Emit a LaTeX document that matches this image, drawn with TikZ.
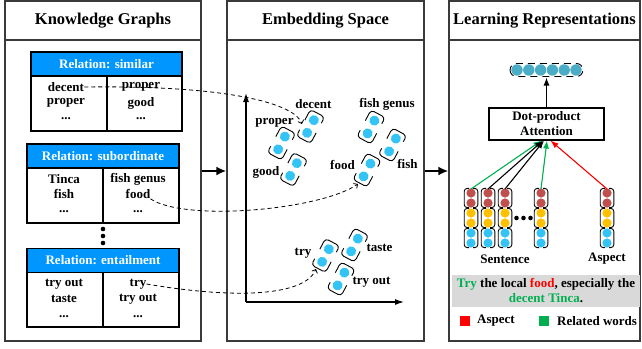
\documentclass[tikz,border=0pt]{standalone}
\usepackage{fontspec}
\setmainfont{Liberation Serif}
\usetikzlibrary{arrows.meta}
\definecolor{panelgray}{HTML}{3A3A3A}
\definecolor{hdrblue}{HTML}{0096FF}
\definecolor{dotcyan}{HTML}{33C3F5}
\definecolor{cbrown}{HTML}{C0504D}
\definecolor{cgold}{HTML}{FFC000}
\definecolor{steel}{HTML}{4BACC6}
\definecolor{tgreen}{HTML}{00B050}
\definecolor{tred}{HTML}{FF0000}
\definecolor{boxgray}{HTML}{D9D9D9}
\tikzset{
  panel/.style={draw=panelgray,line width=1.3pt,rectangle,inner sep=0pt},
  ptitle/.style={font=\fontsize{16.5}{19}\selectfont\bfseries,inner sep=0pt},
  txt/.style={font=\fontsize{13}{15}\selectfont\bfseries,inner sep=0pt},
  hdr/.style={draw=black,line width=1.1pt,fill=hdrblue,text=white,
    font=\fontsize{13}{15}\selectfont\bfseries,minimum height=24pt,inner sep=0pt},
  tbl/.style={draw=black,line width=1.1pt},
  capline/.style={draw=black,line width=0.9pt},
  bigarrow/.style={line width=2.4pt,-{Latex[length=10pt,width=9pt]}},
  axisline/.style={line width=1.2pt,-{Latex[length=9pt,width=6pt]}},
  dashcurve/.style={line width=0.8pt,dash pattern=on 4pt off 3pt,-{Straight Barb[length=3pt,width=6pt]}},
  attarrow/.style={line width=1.1pt,-{Latex[length=8pt,width=6pt]}},
  legsq/.style={rectangle,minimum size=9.5pt,inner sep=0pt},
  pair/.pic={
    \fill[dotcyan] (0,-7.2) circle[radius=5];
    \fill[dotcyan] (0,7.2) circle[radius=5];
    \draw[capline,rounded corners=3.5] (-8,-3) -- (-8,-15) -- (8,-15) -- (8,-8);
    \draw[capline,rounded corners=3.5] (8,3) -- (8,15) -- (-8,15) -- (-8,8);
  },
  colvec/.pic={
    \foreach \yy/\cc in {-25/cbrown,-15/cbrown,-5/cgold,5/cgold,15/dotcyan,25/dotcyan}
      \fill[\cc] (0,\yy) circle[radius=4.6];
    \foreach \g in {-20,0,20} {
      \draw[capline,rounded corners=3] (-2,\g-9.6) -- (-6.8,\g-9.6) -- (-6.8,\g+9.6) -- (-2,\g+9.6);
      \draw[capline,rounded corners=3] (2,\g-9.6) -- (6.8,\g-9.6) -- (6.8,\g+9.6) -- (2,\g+9.6);
    }
  }
}
\begin{document}
\begin{tikzpicture}[x=1pt,y=-1pt]
\useasboundingbox (0,0) rectangle (642,348);

% panels
\node[panel,minimum width=196pt,minimum height=340pt] (P1) at (103,171) {};
\node[panel,minimum width=197pt,minimum height=340pt] (P2) at (325.5,171) {};
\node[panel,minimum width=191pt,minimum height=340pt] (P3) at (544.5,171) {};
\draw[draw=panelgray,line width=1.3pt] (P1.west |- 0,40) -- (P1.east |- 0,40);
\draw[draw=panelgray,line width=1.3pt] (P2.west |- 0,40) -- (P2.east |- 0,40);
\draw[draw=panelgray,line width=1.3pt] (P3.west |- 0,40) -- (P3.east |- 0,40);
\node[ptitle] (T1) at (103,21) {Knowledge Graphs};
\node[ptitle] (T2) at (325.5,21) {Embedding Space};
\node[ptitle] (T3) at (544.5,21) {Learning Representations};
\draw[bigarrow] (P1) -- (P2);
\draw[bigarrow] (P2) -- (P3);

% table 1
\node[hdr,minimum width=151pt] (H1) at (106.5,64) {Relation: similar};
\draw[tbl] (31,76) rectangle (182,131);
\draw[tbl] (107,76) -- (107,131);
\node[txt] (k1a) at (66,87) {decent};
\node[txt] (k1b) at (66,103) {proper};
\node[txt] (k1c) at (66,119) {...};
\node[txt] (k1d) at (141,87) {proper};
\node[txt] (k1e) at (141,103) {good};
\node[txt] (k1f) at (141,119) {...};

% table 2
\node[hdr,minimum width=152pt] (H2) at (103,156) {Relation: subordinate};
\draw[tbl] (27,168) rectangle (179,223);
\draw[tbl] (103,168) -- (103,223);
\node[txt] (k2a) at (64,179) {Tinca};
\node[txt] (k2b) at (64,194) {fish};
\node[txt] (k2c) at (64,212) {...};
\node[txt] (k2d) at (138,179) {fish genus};
\node[txt] (k2e) at (138,194) {food};
\node[txt] (k2f) at (138,212) {...};

\fill (103,229) circle[radius=2.3];
\fill (103,236) circle[radius=2.3];
\fill (103,243) circle[radius=2.3];

% table 3
\node[hdr,minimum width=152pt] (H3) at (103,260.5) {Relation: entailment};
\draw[tbl] (27,272.5) rectangle (179,327);
\draw[tbl] (103,272.5) -- (103,327);
\node[txt] (k3a) at (64,284) {try out};
\node[txt] (k3b) at (64,299) {taste};
\node[txt] (k3c) at (64,317) {...};
\node[txt] (k3d) at (138,284) {try};
\node[txt] (k3e) at (138,299) {try out};
\node[txt] (k3f) at (138,317) {...};

% embedding space
\coordinate (O) at (246,302);
\coordinate (Ytop) at (246,93);
\coordinate (Xend) at (404,302);
\draw[axisline] (O) -- (Ytop);
\draw[axisline] (O) -- (Xend);

\pic[rotate=-28] at (310.5,126.5) {pair};
\pic[rotate=-28] at (281.5,143) {pair};
\pic[rotate=-28] at (293.5,169.5) {pair};
\pic[rotate=-28] at (371,127) {pair};
\pic[rotate=-28] at (392.5,145) {pair};
\pic[rotate=-28] at (367,170) {pair};
\pic[rotate=-28] at (325.5,255.5) {pair};
\pic[rotate=-28] at (354.5,245) {pair};
\pic[rotate=-28] at (341,279) {pair};

\node[txt] (e1) at (313.5,104) {decent};
\node[txt] (e2) at (274.5,123) {proper};
\node[txt] (e3) at (266,172) {good};
\node[txt] (e4) at (387,104) {fish genus};
\node[txt] (e5) at (407.5,164) {fish};
\node[txt] (e6) at (342.5,165) {food};
\node[txt] (e7) at (303,253) {try};
\node[txt] (e8) at (379.5,248) {taste};
\node[txt] (e9) at (371.5,282) {try out};

\coordinate (tDecent) at (302,124);
\coordinate (tFood) at (358,184);
\coordinate (tTry) at (316,269);
\draw[dashcurve] (k1a.east) .. controls (230,85) and (295,104) .. (tDecent);
\draw[dashcurve] (k2e.south east) .. controls (185,222) and (320,210) .. (tFood);
\draw[dashcurve] (k3d.east) .. controls (240,300) and (305,295) .. (tTry);

% learning representations
\foreach \i in {0,...,5}
  \fill[steel] (517+11.8*\i,70) circle[radius=5.7];
\draw[capline,rounded corners=6.5,dash pattern=on 7pt off 5pt] (510,63.5) rectangle (583,76.5);
\coordinate (vecb) at (546.5,77.5);
\node[draw=black,line width=1.1pt,minimum width=115pt,minimum height=32pt,inner sep=0pt,
  align=center,font=\fontsize{13}{15}\selectfont\bfseries] (att) at (546.5,124) {Dot-product\\Attention};
\draw[attarrow] (att.north) -- (vecb);

\pic at (471,218) {colvec};
\pic at (488,218) {colvec};
\pic at (505,218) {colvec};
\pic at (541,218) {colvec};
\pic at (607,218) {colvec};
\fill (516.5,218) circle[radius=2.3];
\fill (523.5,218) circle[radius=2.3];
\fill (530.5,218) circle[radius=2.3];

\coordinate (c1) at (471,189);
\coordinate (c2) at (488,189);
\coordinate (c3) at (505,189);
\coordinate (c4) at (541,189);
\coordinate (c5) at (607,189);
\draw[attarrow,draw=tgreen] (c1) -- ([xshift=-5pt]att.south);
\draw[attarrow] (c2) -- ([xshift=-3.5pt]att.south);
\draw[attarrow] (c3) -- ([xshift=-2.5pt]att.south);
\draw[attarrow,draw=tgreen,fill=tgreen] (c4) -- ([xshift=0.5pt]att.south);
\draw[attarrow,draw=tred,fill=tred] (c5) -- ([xshift=4pt]att.south);

\node[txt] (sent) at (505,259) {Sentence};
\node[txt] (asp) at (607,259) {Aspect};

\node[fill=boxgray,minimum width=188pt,minimum height=32pt,inner sep=0pt,align=center,
  font=\fontsize{13}{15}\selectfont\bfseries] (ex) at (546,291)
  {\textcolor{tgreen}{Try} the local \textcolor{tred}{food}, especially the\\\textcolor{tgreen}{decent Tinca}.};

\node[legsq,fill=tred] (lgA) at (465,321) {};
\node[txt,anchor=west] (lgAt) at (477,321) {Aspect};
\node[legsq,fill=tgreen] (lgR) at (544,321) {};
\node[txt,anchor=west] (lgRt) at (557,321) {Related words};
\end{tikzpicture}
\end{document}
